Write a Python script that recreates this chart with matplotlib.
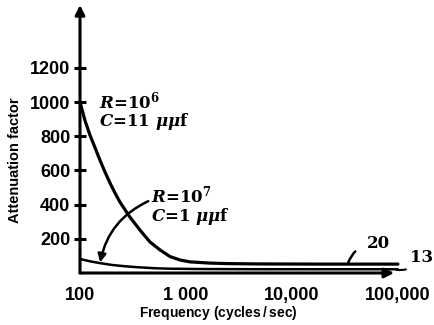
import matplotlib
matplotlib.use("Agg")
import matplotlib.pyplot as plt
import numpy as np

plt.rcParams['mathtext.fontset'] = 'custom'
plt.rcParams['mathtext.rm'] = 'DejaVu Serif:bold'
plt.rcParams['mathtext.it'] = 'DejaVu Serif:bold:italic'
plt.rcParams['mathtext.bf'] = 'DejaVu Serif:bold'

# Data
freq_r6 = [100, 111, 124, 139, 154, 172, 192, 214, 238, 296, 368, 458, 569,
           707, 879, 1092, 1680, 2440, 5000, 20000, 100000]
att_r6 = [1000, 895, 807, 731, 661, 591, 526, 468, 415, 327, 251, 181, 135,
          96, 76, 65, 58, 55, 53, 52, 52]
freq_r7 = [100, 125, 154, 200, 260, 345, 500, 706, 1500, 5000, 100000]
att_r7 = [82, 68, 58, 47, 40, 34, 28, 25, 23, 22, 22]
y_ticks = [200, 400, 600, 800, 1000, 1200]
x_ticks = [100, 1000, 10000, 100000]
x_tick_labels = ["100", "1 000", "10,000", "100,000"]

fig = plt.figure(figsize=(4.35, 3.25), dpi=100)
ax = fig.add_axes([80/435, 52/325, 330/435, 268/325])
ax.set_xscale('log')
ax.set_xlim(100, 130000)
ax.set_ylim(0, 268/0.171)

for s in ax.spines.values():
    s.set_visible(False)

ax.plot(freq_r6, att_r6, color='black', lw=2.3, solid_capstyle='round',
        solid_joinstyle='round')
ax.plot(freq_r7, att_r7, color='black', lw=1.8, solid_capstyle='round',
        solid_joinstyle='round')

# axes with arrows
ax.annotate('', xy=(0, 1.0), xytext=(0, 0), xycoords='axes fraction',
            arrowprops=dict(arrowstyle='-|>', lw=2.2, color='black', mutation_scale=14,
                            shrinkA=0, shrinkB=0))
ax.annotate('', xy=(0.952, 0), xytext=(0, 0), xycoords='axes fraction',
            arrowprops=dict(arrowstyle='-|>', lw=2.2, color='black', mutation_scale=14,
                            shrinkA=0, shrinkB=0))

tick_font = dict(family='Liberation Sans', weight='bold', size=13)
ax.set_yticks(y_ticks)
ax.set_yticklabels([str(v) for v in y_ticks], fontdict=tick_font)
ax.tick_params(axis='y', direction='inout', length=8, width=2.2, pad=3)
ax.set_xticks(x_ticks)
ax.set_xticklabels(x_tick_labels, fontdict=tick_font)
ax.xaxis.set_minor_locator(matplotlib.ticker.NullLocator())
ax.tick_params(axis='x', length=0, pad=10)

ax.set_ylabel('Attenuation factor', fontfamily='Liberation Sans',
              fontweight='bold', fontsize=10.5)
ax.yaxis.set_label_coords(-0.176, 0.42)
ax.set_xlabel('Frequency (cycles$\\,$/$\\,$sec)', fontfamily='Liberation Sans',
              fontweight='bold', fontsize=10)
ax.xaxis.set_label_coords(0.42, -0.115)

ann_font = dict(fontfamily='DejaVu Serif', fontweight='bold', fontsize=12)
ax.text(150, 1070, '$R$=10$^{6}$\n$C$=11 $\\mu\\mu$f', va='top', ha='left',
        linespacing=0.95, **ann_font)
ax.text(465, 515, '$R$=10$^{7}$\n$C$=1 $\\mu\\mu$f', va='top', ha='left',
        linespacing=0.95, **ann_font)

ax.annotate('', xy=(155, 62), xytext=(440, 420),
            arrowprops=dict(arrowstyle='-|>', lw=1.8, color='black',
                            connectionstyle='arc3,rad=0.25', mutation_scale=12,
                            shrinkA=0, shrinkB=0))
ax.annotate('20', xy=(34000, 62), xytext=(66000, 175), ha='center', va='center',
            arrowprops=dict(arrowstyle='-', lw=1.8, color='black',
                            connectionstyle='arc3,rad=0.35', shrinkA=8, shrinkB=0),
            **ann_font)
ax.annotate('13', xy=(97000, 18), xytext=(130000, 88), ha='left', va='center',
            annotation_clip=False,
            arrowprops=dict(arrowstyle='-', lw=1.5, color='black',
                            connectionstyle='arc3,rad=-0.3', shrinkA=1, shrinkB=0),
            **ann_font)

fig.savefig('out.png', dpi=100)
